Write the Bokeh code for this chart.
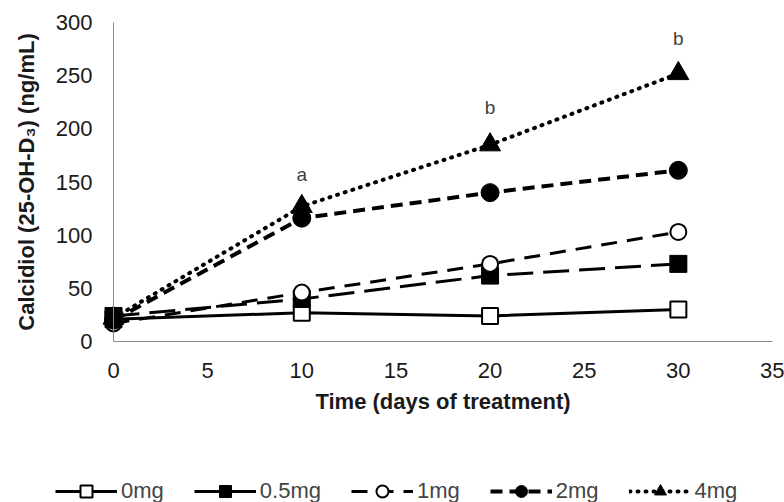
from bokeh.plotting import figure
from bokeh.models import Legend, LegendItem, Range1d, FixedTicker, ColumnDataSource
from bokeh.core.properties import value
from bokeh.embed import file_html
from bokeh.resources import INLINE

days = [0, 10, 20, 30]
mg0 = [21, 27, 24, 30]
mg05 = [24, 40, 62, 73]
mg1 = [17, 46, 73, 103]
mg2 = [20, 116, 140, 161]
mg4 = [22, 127, 185, 252]
labels = ["0mg", "0.5mg", "1mg", "2mg", "4mg"]
annot_x = [10, 20, 30]
annot_y = [157, 220, 285]
annot_txt = ["a", "b", "b"]
x_ticks = [0, 5, 10, 15, 20, 25, 30, 35]
y_ticks = [0, 50, 100, 150, 200, 250, 300]

FONT = "Liberation Sans"

# plot area: x 0..35 -> 113..772 px, y 0..300 -> 341..22 px ; canvas 784x502
PX_X = 659 / 35.0
PX_Y = 319 / 300.0
p = figure(width=784, height=502, min_border=0,
           output_backend="svg", toolbar_location=None,
           x_range=Range1d(-113 / PX_X, 35 + 12 / PX_X),
           y_range=Range1d(-161 / PX_Y, 300 + 22 / PX_Y))
p.outline_line_color = None
p.grid.grid_line_color = None
p.background_fill_color = "white"
p.border_fill_color = "white"

p.xaxis[0].fixed_location = 0
p.yaxis[0].fixed_location = 0
p.xaxis[0].bounds = (0, 35)
p.yaxis[0].bounds = (0, 300)

for ax in (p.xaxis[0], p.yaxis[0]):
    ax.axis_line_color = "#8c8c8c"
    ax.axis_line_width = 1
    ax.major_tick_line_color = None
    ax.minor_tick_line_color = None
    ax.major_tick_out = 0
    ax.major_tick_in = 0
    ax.minor_tick_out = 0
    ax.major_label_text_font = FONT
    ax.major_label_text_font_size = "22px"
    ax.major_label_text_color = "#1a1a1a"
    ax.axis_label_text_font = FONT
    ax.axis_label_text_font_style = "bold"
    ax.axis_label_text_font_size = "22px"
    ax.axis_label_text_color = "#1a1a1a"

p.xaxis[0].ticker = FixedTicker(ticks=x_ticks)
p.yaxis[0].ticker = FixedTicker(ticks=y_ticks)
p.xaxis[0].major_label_standoff = 21
p.yaxis[0].major_label_standoff = 21

p.yaxis[0].axis_label = "Calcidiol (25-OH-D\u2083) (ng/mL)"
p.yaxis[0].axis_label_standoff = 14
p.xaxis[0].axis_label = "Time (days of treatment)"
p.xaxis[0].axis_label_standoff = 8

src = ColumnDataSource(dict(x=days, m0=mg0, m05=mg05, m1=mg1, m2=mg2, m4=mg4))

r0l = p.line("x", "m0", source=src, line_color="black", line_width=3)
r0m = p.scatter("x", "m0", source=src, marker="square", size=16, fill_color="white",
                line_color="black", line_width=2)
r05l = p.line("x", "m05", source=src, line_color="black", line_width=3, line_dash="26 10")
r05m = p.scatter("x", "m05", source=src, marker="square", size=17, fill_color="black",
                 line_color="black")
r1l = p.line("x", "m1", source=src, line_color="black", line_width=3, line_dash="16 10")
r1m = p.scatter("x", "m1", source=src, marker="circle", size=16, fill_color="white",
                line_color="black", line_width=2)
r2l = p.line("x", "m2", source=src, line_color="black", line_width=4, line_dash="12 7")
r2m = p.scatter("x", "m2", source=src, marker="circle", size=18, fill_color="black",
                line_color="black")
r4l = p.line("x", "m4", source=src, line_color="black", line_width=4, line_dash="1 7",
             line_cap="round")
r4m = p.scatter("x", "m4", source=src, marker="triangle", size=21, fill_color="black",
                line_color="black")

p.text(x=annot_x, y=annot_y, text=annot_txt, text_font=value(FONT), text_font_size="19px",
       text_align="center", text_baseline="middle", text_color="#404040")

items = [LegendItem(label=labels[0], renderers=[r0l, r0m]),
         LegendItem(label=labels[1], renderers=[r05l, r05m]),
         LegendItem(label=labels[2], renderers=[r1l, r1m]),
         LegendItem(label=labels[3], renderers=[r2l, r2m]),
         LegendItem(label=labels[4], renderers=[r4l, r4m])]
leg = Legend(items=items, orientation="horizontal", location=(55, -4),
             glyph_width=62, glyph_height=30, label_text_font=FONT,
             label_text_font_size="22px", label_standoff=4, spacing=30,
             label_height=22, padding=0, margin=0, border_line_color=None,
             background_fill_alpha=0)
p.add_layout(leg)

open("out.html", "w").write(file_html(p, INLINE))
